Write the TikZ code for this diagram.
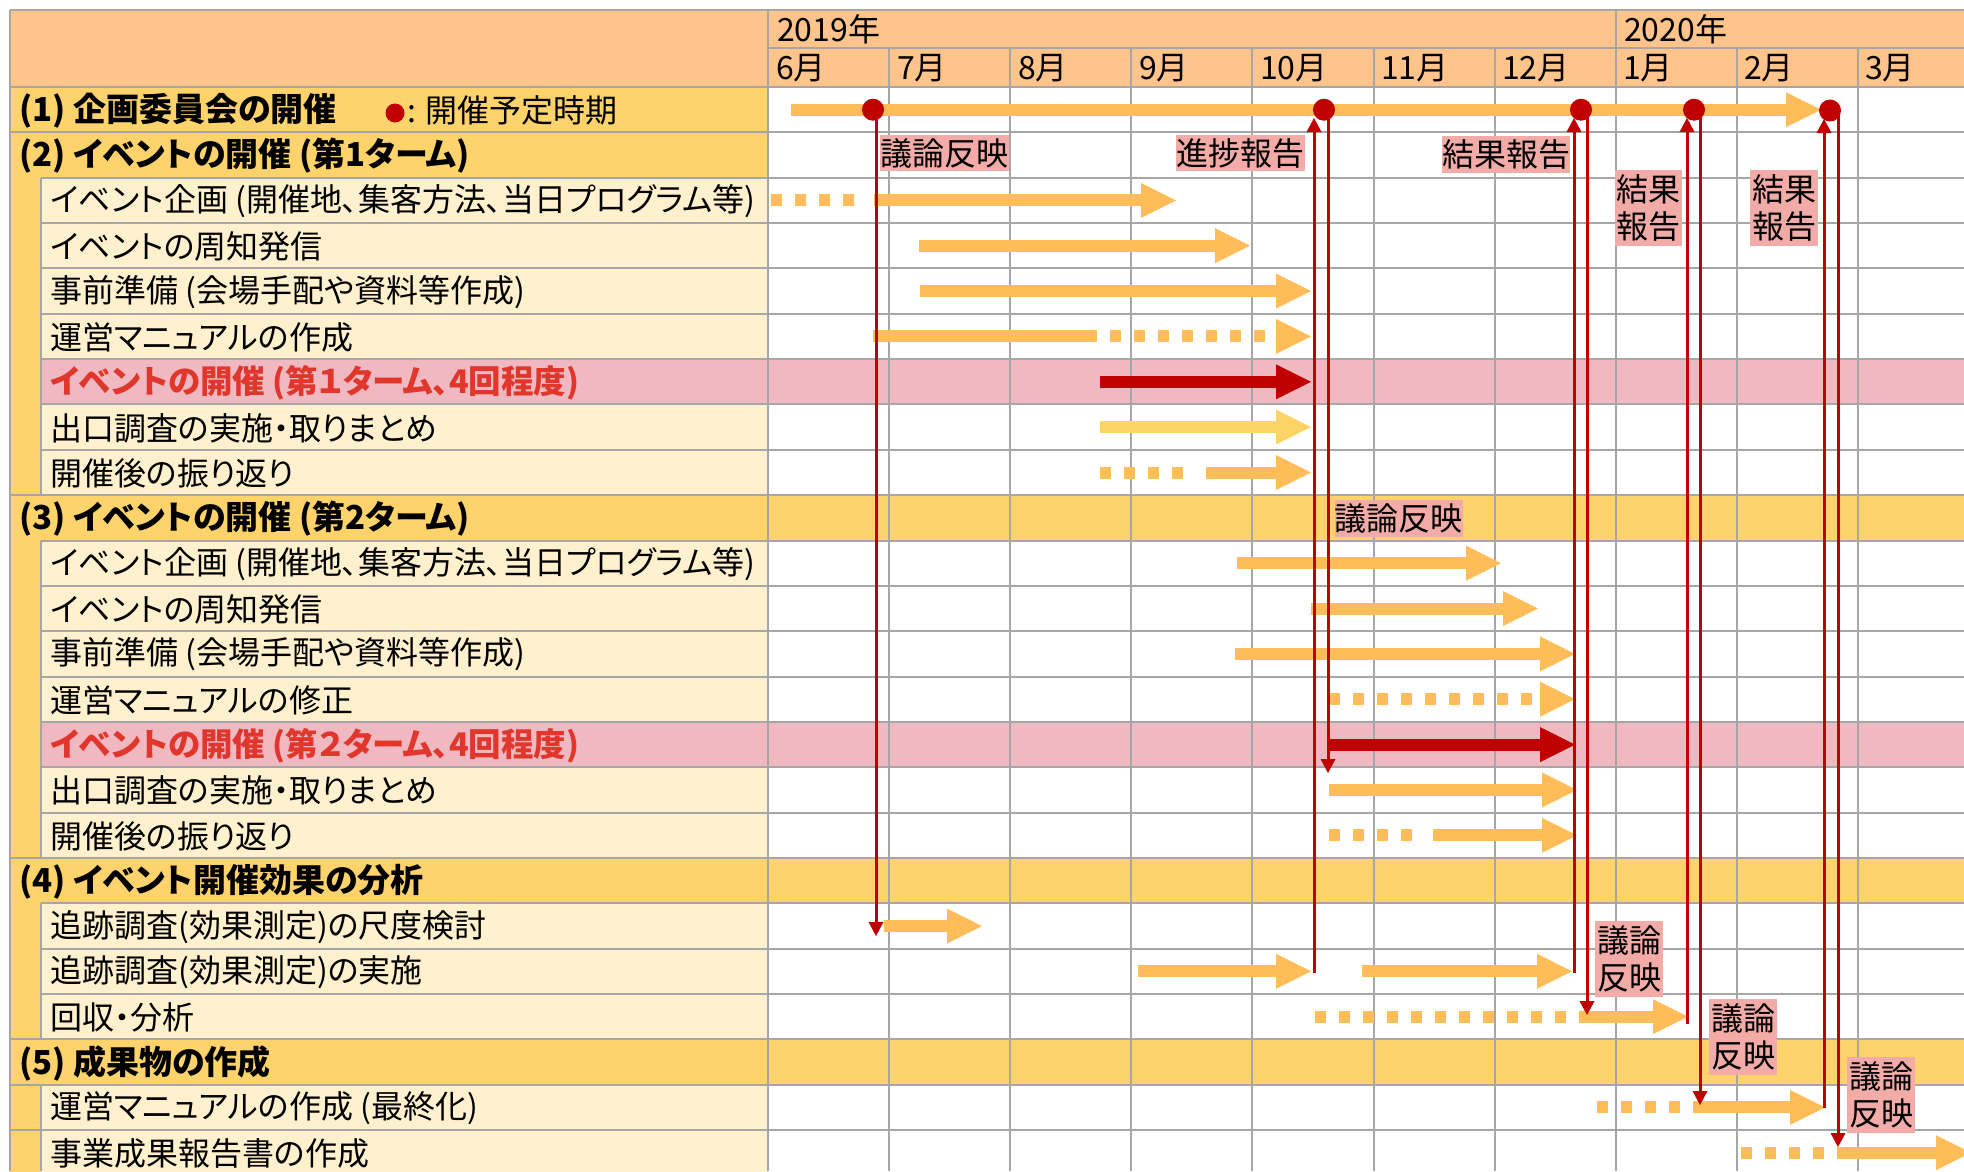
\documentclass[tikz,border=0pt]{standalone}
\usepackage{fontspec}
\setmainfont{Noto Sans CJK JP}[RawFeature=+palt]
\usetikzlibrary{arrows.meta}
\definecolor{hdr}{HTML}{FFC48C}
\definecolor{sec}{HTML}{FFD36B}
\definecolor{cream}{HTML}{FFF1CD}
\definecolor{pinkrow}{HTML}{F0B9C2}
\definecolor{gridc}{HTML}{A6A6A6}
\definecolor{barc}{HTML}{FFBD59}
\definecolor{barlight}{HTML}{FFD466}
\definecolor{dred}{HTML}{C00000}
\definecolor{tred}{HTML}{E0362C}
\definecolor{lblc}{HTML}{F2ABA6}
\tikzset{
  txt/.style={font=\fontsize{32}{37}\selectfont, anchor=west, inner sep=0pt},
  sectxt/.style={font=\fontsize{33}{38}\selectfont\bfseries, anchor=west, inner sep=0pt},
  redtxt/.style={font=\fontsize{32.5}{38}\selectfont\bfseries, anchor=west, inner sep=0pt, text=tred},
  gline/.style={draw=gridc, line width=2pt},
  obar/.style={draw=barc, line width=12pt},
  lbar/.style={draw=barlight, line width=12pt},
  rbar/.style={draw=dred, line width=12pt},
  odash/.style={draw=barc, line width=12pt, dash pattern=on 11pt off 13pt},
  otip/.style={-{Triangle[width=35pt,length=35pt,line width=0pt]}},
  rline/.style={draw=dred, line width=3pt},
  rtip/.style={-{Triangle[width=15pt,length=14pt,line width=0pt]}},
  dotn/.style={circle, fill=dred, minimum size=22pt, inner sep=0pt},
  lbox/.style={fill=lblc, inner sep=0pt, font=\fontsize{32}{37}\selectfont, align=center},
}
\newcommand\gbar[5]{\coordinate (#2a) at (#4,#3); \coordinate (#2b) at (#5,#3); \draw[#1] (#2a) -- (#2b);}
\newcommand\rconn[4]{\coordinate (#1a) at (#2,#3); \coordinate (#1b) at (#2,#4); \draw[rline,rtip] (#1a) -- (#1b);}
\begin{document}
\begin{tikzpicture}[x=1pt,y=-1pt]
\useasboundingbox (0,0) rectangle (1964,1171);
\fill[white] (0,0) rectangle (1964,1171);
% fills
\fill[hdr] (10,10) rectangle (1964,87);
\fill[sec] (10,87) rectangle (768,177.7);
\fill[sec] (10,177.7) rectangle (41,495.15);
\fill[cream] (41,177.7) rectangle (768,495.15);
\fill[pinkrow] (41,359.1) rectangle (1964,404.45);
\fill[sec] (10,495.15) rectangle (1964,540.5);
\fill[sec] (10,540.5) rectangle (41,857.95);
\fill[cream] (41,540.5) rectangle (768,857.95);
\fill[pinkrow] (41,721.9) rectangle (1964,767.25);
\fill[sec] (10,857.95) rectangle (1964,903.3);
\fill[sec] (10,903.3) rectangle (41,1039.35);
\fill[cream] (41,903.3) rectangle (768,1039.35);
\fill[sec] (10,1039.35) rectangle (1964,1084.7);
\fill[sec] (10,1084.7) rectangle (41,1175.4);
\fill[cream] (41,1084.7) rectangle (768,1175.4);
% grid
\foreach \y in {10,87,132.35,495.15,857.95,1039.35,1084.7,1130.05} \draw[gline] (10,\y) -- (1964,\y);
\foreach \y in {177.7,223.05,268.4,313.75,359.1,404.45,449.8,540.5,585.85,631.2,676.55,721.9,767.25,812.6,903.3,948.65,994} \draw[gline] (41,\y) -- (1964,\y);
\draw[gline] (768,48) -- (1964,48);
\draw[gline] (10,10) -- (10,1171);
\draw[gline] (41,177.7) -- (41,495.15);
\draw[gline] (41,540.5) -- (41,857.95);
\draw[gline] (41,903.3) -- (41,1039.35);
\draw[gline] (41,1084.7) -- (41,1171);
\draw[gline] (768,10) -- (768,1171);
\draw[gline] (1615.7,10) -- (1615.7,1171);
\foreach \x in {889.1,1010.2,1131.3,1252.4,1373.5,1494.6,1736.8,1857.9} \draw[gline] (\x,48) -- (\x,1171);
% header text
\node[txt] (yr1) at (777,29) {2019年};
\node[txt] (yr2) at (1624,29) {2020年};
\node[txt] (m6) at (776,68) {6月};
\node[txt] (m7) at (897,68) {7月};
\node[txt] (m8) at (1018,68) {8月};
\node[txt] (m9) at (1139,68) {9月};
\node[txt] (m10) at (1260,68) {10月};
\node[txt] (m11) at (1381,68) {11月};
\node[txt] (m12) at (1502,68) {12月};
\node[txt] (m1) at (1623,68) {1月};
\node[txt] (m2) at (1744,68) {2月};
\node[txt] (m3) at (1865,68) {3月};
% labels
\node[sectxt] (t0) at (19,110.5) {(1) 企画委員会の開催};
\node[dotn, minimum size=19pt] (legdot) at (395,113) {};
\node[txt] (legt) at (407,110.5) {: 開催予定時期};
\node[sectxt] (t1) at (19,156) {(2) イベントの開催 (第1ターム)};
\node[txt] (t2) at (50,201) {イベント企画 (開催地、集客方法、当日プログラム等)};
\node[txt] (t3) at (50,246.5) {イベントの周知発信};
\node[txt] (t4) at (50,292) {事前準備 (会場手配や資料等作成)};
\node[txt] (t5) at (50,337) {運営マニュアルの作成};
\node[redtxt] (t6) at (50,382.5) {イベントの開催 (第１ターム、4回程度)};
\node[txt] (t7) at (50,428) {出口調査の実施・取りまとめ};
\node[txt] (t8) at (50,473) {開催後の振り返り};
\node[sectxt] (t9) at (19,518.5) {(3) イベントの開催 (第2ターム)};
\node[txt] (t10) at (50,564) {イベント企画 (開催地、集客方法、当日プログラム等)};
\node[txt] (t11) at (50,609) {イベントの周知発信};
\node[txt] (t12) at (50,654.5) {事前準備 (会場手配や資料等作成)};
\node[txt] (t13) at (50,700) {運営マニュアルの修正};
\node[redtxt] (t14) at (50,745.5) {イベントの開催 (第２ターム、4回程度)};
\node[txt] (t15) at (50,790.5) {出口調査の実施・取りまとめ};
\node[txt] (t16) at (50,836) {開催後の振り返り};
\node[sectxt] (t17) at (19,881.5) {(4) イベント開催効果の分析};
\node[txt] (t18) at (50,927) {追跡調査(効果測定)の尺度検討};
\node[txt] (t19) at (50,972) {追跡調査(効果測定)の実施};
\node[txt] (t20) at (50,1017.5) {回収・分析};
\node[sectxt] (t21) at (19,1063) {(5) 成果物の作成};
\node[txt] (t22) at (50,1108) {運営マニュアルの作成 (最終化)};
\node[txt] (t23) at (50,1153.5) {事業成果報告書の作成};
% bars
\gbar{obar,otip}{b0}{109.7}{791}{1821}
\gbar{odash}{b2d}{200.4}{771}{856}
\gbar{obar,otip}{b2}{200.4}{874}{1176}
\gbar{obar,otip}{b3}{245.7}{919}{1250}
\gbar{obar,otip}{b4}{291.1}{920}{1311}
\gbar{obar}{b5}{336.4}{873}{1094}
\gbar{odash,otip}{b5d}{336.4}{1086}{1311}
\gbar{rbar,otip}{b6}{381.8}{1100}{1311}
\gbar{lbar,otip}{b7}{427.1}{1100}{1311}
\gbar{odash}{b8d}{472.5}{1100}{1185}
\gbar{obar,otip}{b8}{472.5}{1206}{1311}
\gbar{obar,otip}{b10}{563.2}{1237}{1501}
\gbar{obar,otip}{b11}{608.5}{1311}{1538}
\gbar{obar,otip}{b12}{653.9}{1235}{1575}
\gbar{odash,otip}{b13}{699.2}{1329}{1575}
\gbar{rbar,otip}{b14}{744.6}{1327}{1575}
\gbar{obar,otip}{b15}{789.9}{1329}{1577}
\gbar{odash}{b16d}{835.3}{1329}{1413}
\gbar{obar,otip}{b16}{835.3}{1433}{1577}
\gbar{obar,otip}{b18}{926}{884}{982}
\gbar{obar,otip}{b19}{971.3}{1138}{1311}
\gbar{obar,otip}{b19x}{971.3}{1362}{1572}
\gbar{odash}{b20d}{1016.7}{1315}{1590}
\gbar{obar,otip}{b20}{1016.7}{1590}{1688}
\gbar{odash}{b22d}{1107.4}{1597}{1704}
\gbar{obar,otip}{b22}{1107.4}{1704}{1825}
\gbar{odash}{b23d}{1152.7}{1741}{1846}
\gbar{obar,otip}{b23}{1152.7}{1842}{1971}
% label boxes
\node[lbox, minimum width=129pt, minimum height=36pt] (k1) at (944.5,153) {議論反映};
\node[lbox, minimum width=129pt, minimum height=36pt] (k2) at (1240.5,153) {進捗報告};
\node[lbox, minimum width=128pt, minimum height=37pt] (k3) at (1506,154.5) {結果報告};
\node[lbox, minimum width=67pt, minimum height=76pt] (k4) at (1648.5,208) {結果\\報告};
\node[lbox, minimum width=68pt, minimum height=76pt] (k5) at (1784,208) {結果\\報告};
\node[lbox, minimum width=127pt, minimum height=37pt] (k6) at (1398.5,518.5) {議論反映};
\node[lbox, minimum width=68pt, minimum height=76pt] (k7) at (1629,959) {議論\\反映};
\node[lbox, minimum width=68pt, minimum height=76pt] (k8) at (1743,1036.5) {議論\\反映};
\node[lbox, minimum width=68pt, minimum height=76pt] (k9) at (1881,1095) {議論\\反映};
% red connectors
\rconn{c1d}{876}{110}{936}
\rconn{c2u}{1314}{973}{118}
\rconn{c2d}{1328}{110}{773}
\rconn{c3u}{1574}{973}{118}
\rconn{c3d}{1587}{110}{1015}
\rconn{c4u}{1687}{1024}{118}
\rconn{c4d}{1700}{110}{1105}
\rconn{c5u}{1824}{1108}{119}
\rconn{c5d}{1838}{111}{1147}
% dots
\node[dotn] (d1) at (873,109.7) {};
\node[dotn] (d2) at (1324,109.7) {};
\node[dotn] (d3) at (1581,109.7) {};
\node[dotn] (d4) at (1694,109.7) {};
\node[dotn] (d5) at (1830,110.5) {};
\end{tikzpicture}
\end{document}
